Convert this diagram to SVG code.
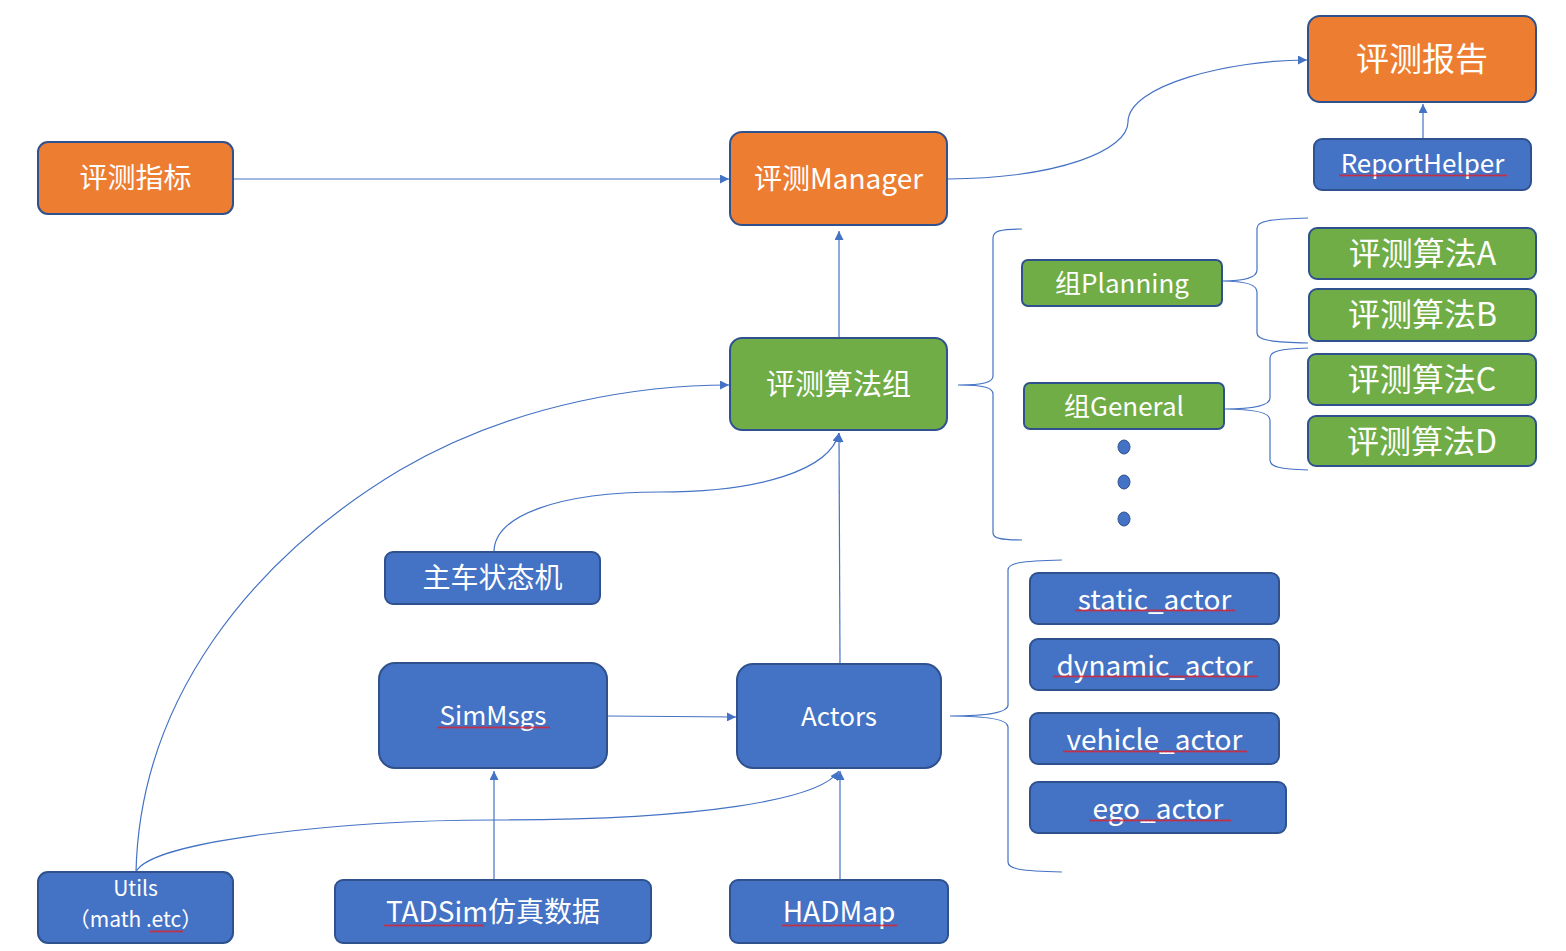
<svg xmlns="http://www.w3.org/2000/svg" width="1566" height="951" viewBox="0 0 1566 951">
<style>
.o{fill:#ED7D31;stroke:#2F528F;stroke-width:2}
.g{fill:#70AD47;stroke:#2F528F;stroke-width:2}
.b{fill:#4472C4;stroke:#2F528F;stroke-width:2}
text{font-family:"Noto Sans CJK SC","Microsoft YaHei","Noto Sans",sans-serif;fill:#fff;text-anchor:middle}
.c{fill:none;stroke:#4472C4;stroke-width:1.2}
.br{fill:none;stroke:#4472C4;stroke-width:1.2}
.sq{fill:url(#sq)}
</style>
<defs>
<marker id="ar" viewBox="0 0 10 10" refX="10" refY="5" markerWidth="9" markerHeight="9" markerUnits="userSpaceOnUse" orient="auto">
<path d="M0,0 L10,5 L0,10 z" fill="#4472C4"/>
</marker>
<pattern id="sq" x="0" y="0" width="4" height="3" patternUnits="userSpaceOnUse">
<path d="M0,2.5 L1,0.5 L2,2.5 L3,0.5 L4,2.5" fill="none" stroke="#E0212A" stroke-width="0.8"/>
</pattern>
</defs>

<g id="connectors">
<path class="c" d="M233,179 L729,179" marker-end="url(#ar)"/>
<path class="c" d="M948,179 C1060,178 1128,150 1128,122 C1128,85 1230,60 1307,60" marker-end="url(#ar)"/>
<path class="c" d="M1423,139 L1423,104" marker-end="url(#ar)"/>
<path class="c" d="M839,338 L839,231" marker-end="url(#ar)"/>
<path class="c" d="M840,664 L839,433" marker-end="url(#ar)"/>
<path class="c" d="M494,552 C494,515 560,492 660,492 C760,492 830,470 839,433" marker-end="url(#ar)"/>
<path class="c" d="M136,872 C140,700 250,560 400,470 C520,400 650,385 729,385" marker-end="url(#ar)"/>
<path class="c" d="M136,872 C150,840 350,820 494,820 C700,820 820,800 839,771" marker-end="url(#ar)"/>
<path class="c" d="M494,880 L494,771" marker-end="url(#ar)"/>
<path class="c" d="M840,880 L840,771" marker-end="url(#ar)"/>
<path class="c" d="M607,716 L736,717" marker-end="url(#ar)"/>
</g>

<g id="braces">
<path class="br" d="M1022,229 C1000,229 993,231 993,238 L993,376 C993,382 985,385 958,385 C985,385 993,388 993,394 L993,533 C993,538 1000,540 1022,540"/>
<path class="br" d="M1308,218 C1270,219 1257,221 1257,228 L1257,270 C1257,277 1245,281 1222,281 C1245,281 1257,285 1257,292 L1257,333 C1257,340 1270,342 1308,343"/>
<path class="br" d="M1308,348 C1280,349 1270,351 1270,358 L1270,398 C1270,405 1255,409 1224,409 C1255,409 1270,413 1270,420 L1270,460 C1270,467 1280,469 1308,470"/>
<path class="br" d="M1062,560 C1020,561 1008,563 1008,570 L1008,705 C1008,712 990,716 950,716 C990,716 1008,720 1008,727 L1008,862 C1008,869 1020,871 1062,872"/>
</g>

<g id="n-zhibiao"><rect class="o" x="38" y="142" width="195" height="72" rx="10"/><text x="135.5" y="188" font-size="28">评测指标</text></g>
<g id="n-manager"><rect class="o" x="730" y="132" width="217" height="93" rx="12"/><text x="838.5" y="189" font-size="28">评测Manager</text></g>
<g id="n-baogao"><rect class="o" x="1308" y="16" width="228" height="86" rx="12"/><text x="1422" y="71" font-size="33">评测报告</text></g>
<g id="n-reporthelper"><rect class="b" x="1314" y="139" width="217" height="51" rx="8"/><text x="1422.5" y="173" font-size="26">ReportHelper</text><rect class="sq" x="1339" y="174" width="168" height="3"/></g>
<g id="n-suanfazu"><rect class="g" x="730" y="338" width="217" height="92" rx="12"/><text x="838.5" y="395" font-size="29">评测算法组</text></g>
<g id="n-planning"><rect class="g" x="1022" y="260" width="200" height="46" rx="6"/><text x="1122" y="293" font-size="26">组Planning</text></g>
<g id="n-general"><rect class="g" x="1024" y="383" width="200" height="46" rx="6"/><text x="1124" y="416" font-size="26">组General</text></g>
<g id="n-a"><rect class="g" x="1309" y="228" width="227" height="51" rx="8"/><text x="1422.5" y="265" font-size="32">评测算法A</text></g>
<g id="n-b"><rect class="g" x="1309" y="289" width="227" height="52" rx="8"/><text x="1422.5" y="326" font-size="32">评测算法B</text></g>
<g id="n-c"><rect class="g" x="1308" y="354" width="228" height="51" rx="8"/><text x="1422" y="391" font-size="32">评测算法C</text></g>
<g id="n-d"><rect class="g" x="1308" y="416" width="228" height="50" rx="8"/><text x="1422" y="453" font-size="32">评测算法D</text></g>
<g id="dots" fill="#4472C4" stroke="#2F528F" stroke-width="1">
<ellipse cx="1124" cy="447" rx="6" ry="7"/>
<ellipse cx="1124" cy="482" rx="6" ry="7"/>
<ellipse cx="1124" cy="519" rx="6" ry="7"/>
</g>
<g id="n-zhuche"><rect class="b" x="385" y="552" width="215" height="52" rx="8"/><text x="492.5" y="588" font-size="28">主车状态机</text></g>
<g id="n-simmsgs"><rect class="b" x="379" y="663" width="228" height="105" rx="16"/><text x="493" y="725" font-size="26">SimMsgs</text><rect class="sq" x="437" y="726" width="113" height="3"/></g>
<g id="n-actors"><rect class="b" x="737" y="664" width="204" height="104" rx="16"/><text x="839" y="726" font-size="26">Actors</text></g>
<g id="n-static"><rect class="b" x="1030" y="573" width="249" height="51" rx="8"/><text x="1154.5" y="610" font-size="28">static_actor</text><rect class="sq" x="1075" y="609" width="160" height="3"/></g>
<g id="n-dynamic"><rect class="b" x="1030" y="639" width="249" height="51" rx="8"/><text x="1154.5" y="676" font-size="28">dynamic_actor</text><rect class="sq" x="1053" y="675" width="205" height="3"/></g>
<g id="n-vehicle"><rect class="b" x="1030" y="713" width="249" height="51" rx="8"/><text x="1154.5" y="750" font-size="28">vehicle_actor</text><rect class="sq" x="1063" y="750" width="184" height="3"/></g>
<g id="n-ego"><rect class="b" x="1030" y="782" width="256" height="51" rx="8"/><text x="1158" y="819" font-size="28">ego_actor</text><rect class="sq" x="1089" y="819" width="142" height="3"/></g>
<g id="n-utils"><rect class="b" x="38" y="872" width="195" height="71" rx="10"/><text x="135.5" y="896" font-size="21">Utils</text><text x="135.5" y="927" font-size="21">（math .etc）</text><rect class="sq" x="150" y="930" width="33" height="3"/></g>
<g id="n-tadsim"><rect class="b" x="335" y="880" width="316" height="63" rx="8"/><text x="493" y="922" font-size="28">TADSim仿真数据</text><rect class="sq" x="384" y="924" width="100" height="3"/></g>
<g id="n-hadmap"><rect class="b" x="730" y="880" width="218" height="63" rx="8"/><text x="839" y="922" font-size="28">HADMap</text><rect class="sq" x="782" y="924" width="115" height="3"/></g>
</svg>
